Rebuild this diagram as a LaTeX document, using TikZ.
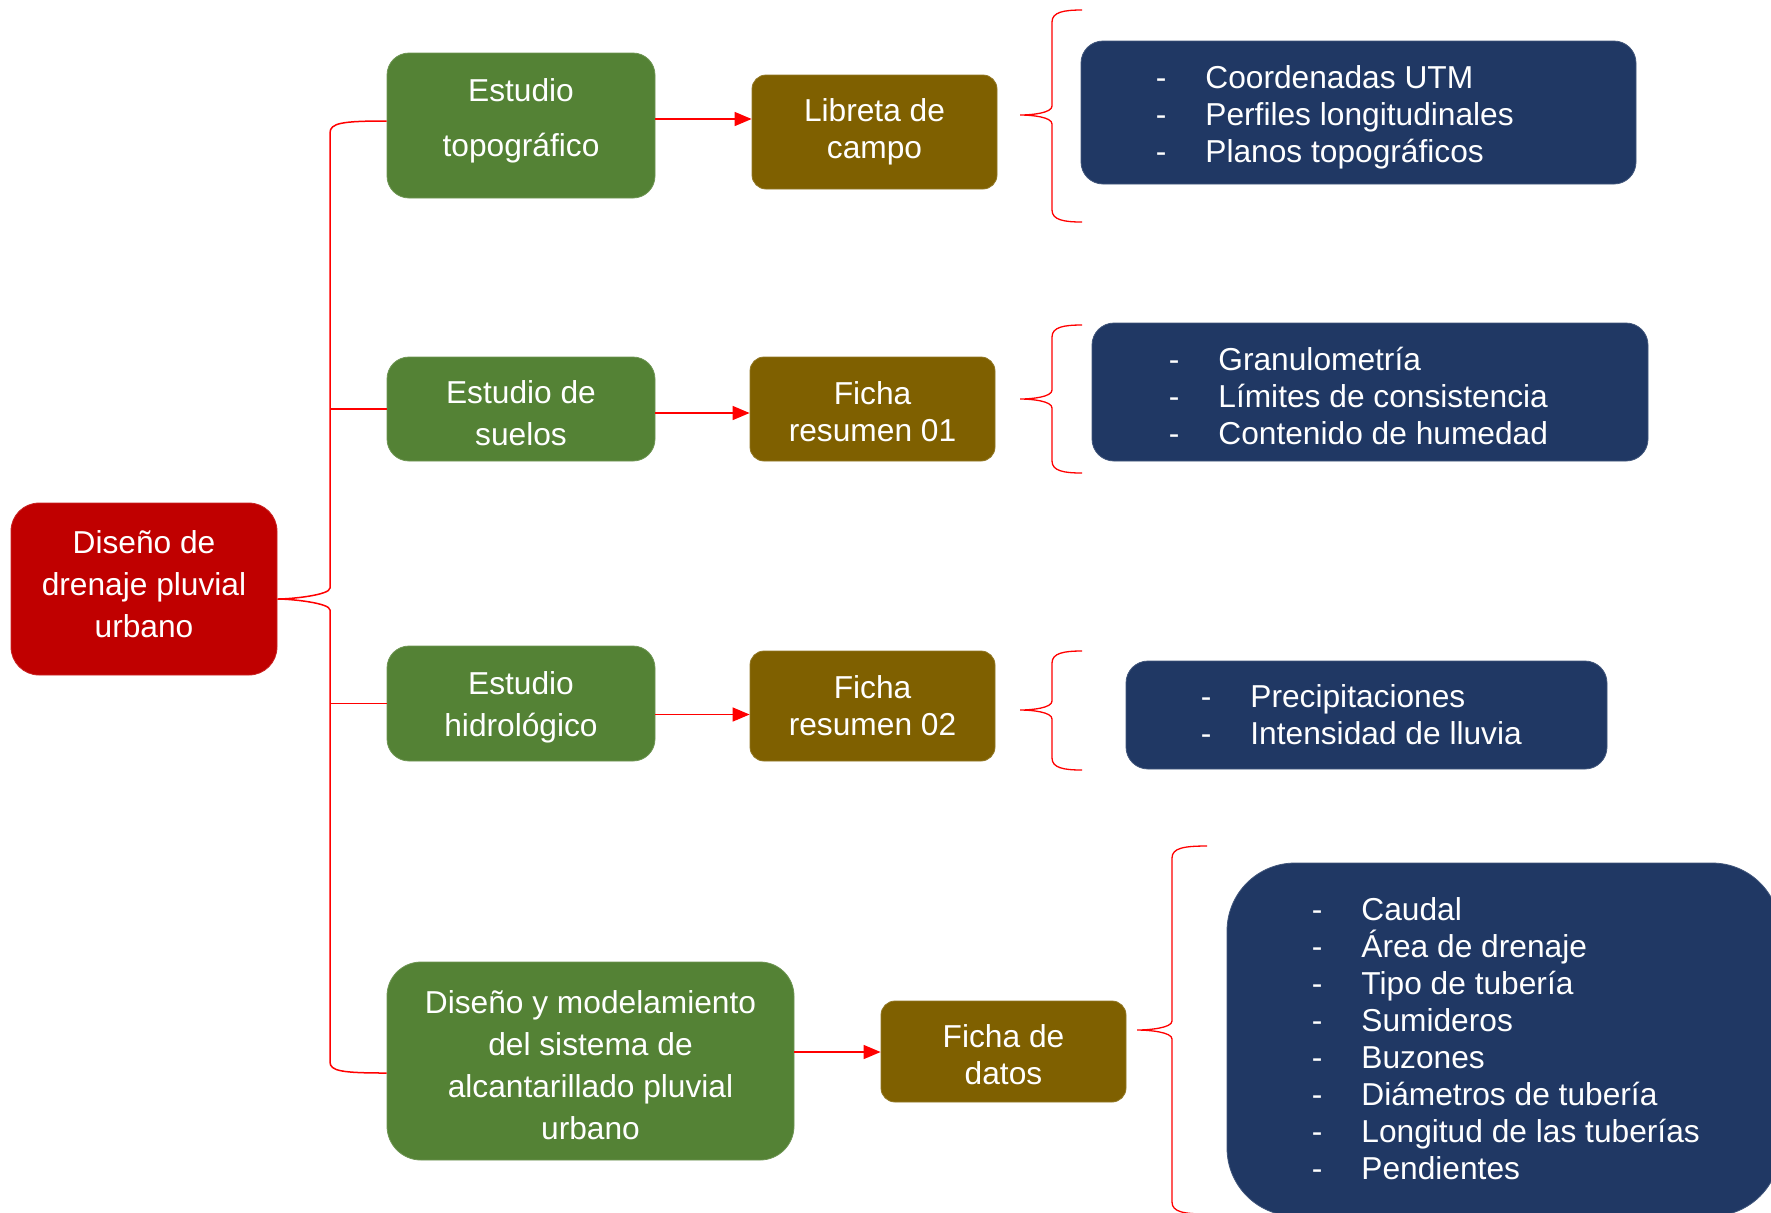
\documentclass[tikz,border=0pt]{standalone}
\usepackage{fontspec}
\setmainfont{Liberation Sans}
\usetikzlibrary{arrows.meta}
\definecolor{rootred}{HTML}{C00000}
\definecolor{grn}{HTML}{548235}
\definecolor{brn}{HTML}{7F6000}
\definecolor{navy}{HTML}{203864}
\definecolor{lnred}{HTML}{FF0000}
\newcommand\lidash{\makebox[22pt][l]{\hspace{-2.8pt}-}}
\newcommand\rbr[6]{% tipx, vertx, endx, topy, tipy, boty
  \draw[bracestyle] (#3,#4) .. controls (#2+12,#4) and (#2,#4+2) .. (#2,#4+12)
    -- (#2,#5-9) .. controls (#2,#5-2) and (#1+12,#5) .. (#1,#5)
    .. controls (#1+12,#5) and (#2,#5+2) .. (#2,#5+9)
    -- (#2,#6-12) .. controls (#2,#6-2) and (#2+12,#6) .. (#3,#6);}
\begin{document}
\begin{tikzpicture}[x=0.5pt,y=-0.5pt,
  txt/.style={text=white, align=center, inner sep=0pt, font=\fontsize{15.85}{21}\selectfont},
  btxt/.style={txt, font=\fontsize{15.85}{18.5}\selectfont},
  rootbox/.style={fill=rootred, draw=rootred!85!white, line width=0.4pt, rounded corners=14pt},
  greenbox/.style={fill=grn, draw=grn!85!white, line width=0.4pt, rounded corners=11pt},
  brownbox/.style={fill=brn, draw=brn!85!white, line width=0.4pt, rounded corners=7pt},
  navybox/.style={fill=navy, draw=navy!85!white, line width=0.4pt, rounded corners=11pt, inner sep=0pt},
  listtext/.style={text=white, align=left, inner sep=0pt, anchor=west, font=\fontsize{15.85}{18.5}\selectfont},
  conn/.style={draw=lnred, line width=0.75pt},
  arr/.style={conn, -{Triangle[length=8.5pt,width=7pt]}},
  bracestyle/.style={draw=lnred, line width=0.65pt}
]
\useasboundingbox (0,0) rectangle (1771,1212);
\clip (0,0) rectangle (1771,1212);

% root
\node[rootbox, minimum width=133pt, minimum height=86pt] (root) at (144,589) {};
\node[txt] (roott) at ([yshift=2.5pt]root.center) {Diseño de\\drenaje pluvial\\urbano};

% green boxes
\node[greenbox, minimum width=134pt, minimum height=72.5pt] (g1) at (521,125.5) {};
\node[txt, font=\fontsize{15.85}{27.5}\selectfont] (g1t) at ([yshift=2.5pt]g1.center) {Estudio\\topográfico};
\node[greenbox, minimum width=134pt, minimum height=52pt] (g2) at (521,409) {};
\node[txt] (g2t) at ([yshift=-2.25pt]g2.center) {Estudio de\\suelos};
\node[greenbox, minimum width=134pt, minimum height=57.5pt] (g3) at (521,703.5) {};
\node[txt] (g3t) at ([yshift=-1.7pt]g3.center) {Estudio\\hidrológico};
\node[greenbox, minimum width=203.5pt, minimum height=99pt, rounded corners=17pt] (g4) at (590.5,1061) {};
\node[txt] (g4t) at ([yshift=-2.25pt]g4.center) {Diseño y modelamiento\\del sistema de\\alcantarillado pluvial\\urbano};

% brown boxes
\node[brownbox, minimum width=122.5pt, minimum height=57pt] (b1) at (874.5,132) {};
\node[btxt] (b1t) at (b1.center) {Libreta de\\campo};
\node[brownbox, minimum width=122.5pt, minimum height=52pt] (b2) at (872.5,409) {};
\node[btxt] (b2t) at ([yshift=-1.1pt]b2.center) {Ficha\\resumen 01};
\node[brownbox, minimum width=122.5pt, minimum height=55pt] (b3) at (872.5,706) {};
\node[btxt] (b3t) at (b3.center) {Ficha\\resumen 02};
\node[brownbox, minimum width=122.5pt, minimum height=50.5pt] (b4) at (1003.5,1051.5) {};
\node[btxt] (b4t) at ([yshift=-1.7pt]b4.center) {Ficha de\\datos};

% navy boxes
\node[navybox, minimum width=277.5pt, minimum height=71.5pt] (n1) at (1358.5,112.5) {};
\node[navybox, minimum width=278pt, minimum height=69pt] (n2) at (1370,392) {};
\node[navybox, minimum width=240.5pt, minimum height=54pt] (n3) at (1366.5,715) {};
\node[navybox, minimum width=276.5pt, minimum height=176.5pt, rounded corners=34pt] (n4) at (1503.5,1039.5) {};

\node[listtext] (n1t) at (1161,117.5) {\lidash Coordenadas UTM\\\lidash Perfiles longitudinales\\\lidash Planos topográficos};
\node[listtext] (n2t) at (1174,396) {\lidash Granulometría\\\lidash Límites de consistencia\\\lidash Contenido de humedad};
\node[listtext] (n3t) at (1206,714.5) {\lidash Precipitaciones\\\lidash Intensidad de lluvia};
\node[listtext] (n4t) at (1317,1039) {\lidash Caudal\\\lidash Área de drenaje\\\lidash Tipo de tubería\\\lidash Sumideros\\\lidash Buzones\\\lidash Diámetros de tubería\\\lidash Longitud de las tuberías\\\lidash Pendientes};

% left brace
\coordinate (spine) at (330,0);
\draw[conn] ([yshift=2.25pt]g1.west) .. controls (342,121) and (330,123) .. (330,133)
  -- (330,588) .. controls (330,595) and (292,599) .. ([yshift=-5pt]root.east)
  .. controls (292,599) and (330,603) .. (330,610)
  -- (330,1062) .. controls (330,1071) and (342,1073) .. ([yshift=-6pt]g4.west);
\draw[conn] (g2.west) -- (g2.west -| spine);
\draw[conn] (g3.west) -- (g3.west -| spine);

% arrows
\draw[arr] ([yshift=3.25pt]g1.east) -- ([yshift=3.25pt]g1.east -| b1.west);
\draw[arr] ([yshift=-2pt]g2.east) -- ([yshift=-2pt]g2.east -| b2.west);
\draw[arr] ([yshift=-5.5pt]g3.east) -- ([yshift=-5.5pt]g3.east -| b3.west);
\draw[arr] ([yshift=4.5pt]g4.east) -- ([yshift=4.5pt]g4.east -| b4.west);

% right braces
\rbr{1020}{1052}{1082}{10}{115}{222}
\rbr{1020}{1052}{1082}{325}{399}{473}
\rbr{1020}{1052}{1082}{651}{710}{770}
\rbr{1137}{1172}{1207}{846}{1030}{1214}
\end{tikzpicture}
\end{document}
